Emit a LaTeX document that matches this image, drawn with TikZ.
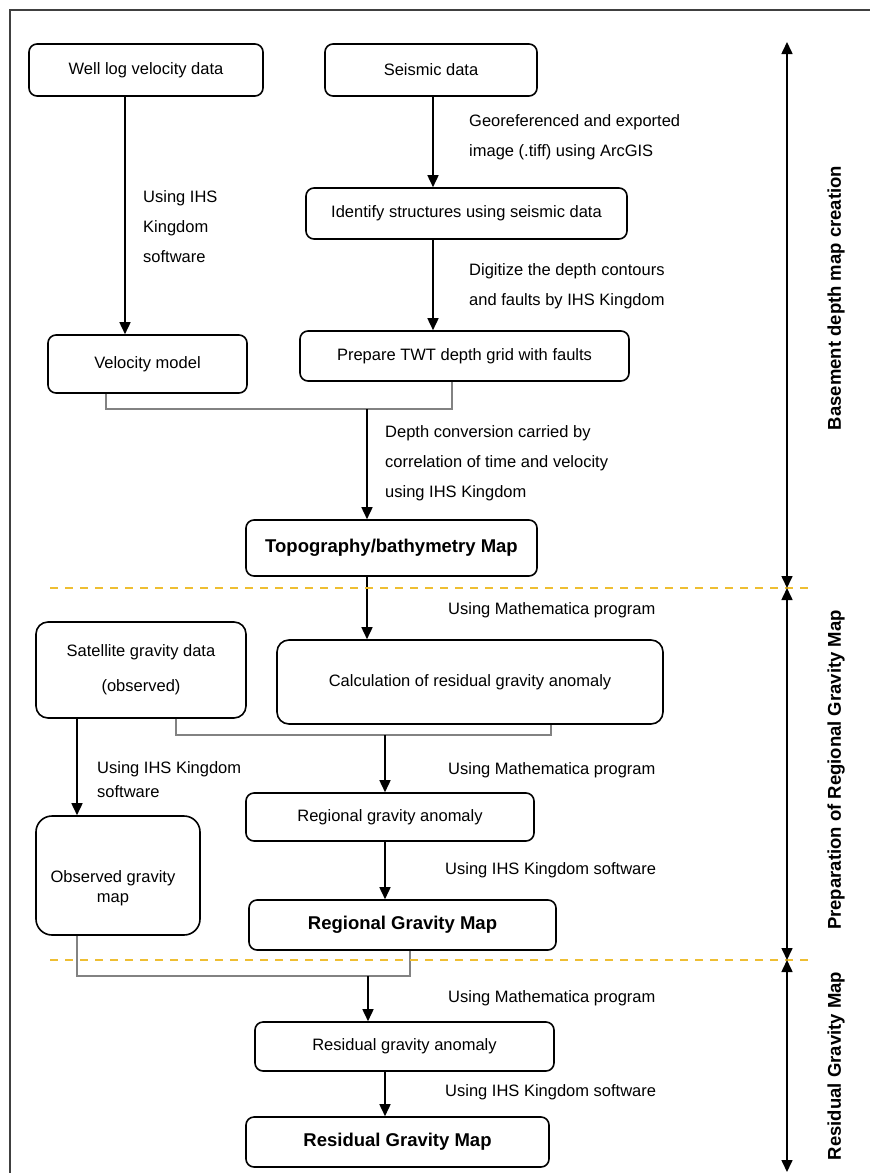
\documentclass[tikz,border=0pt]{standalone}
\usepackage{fontspec}
\setmainfont{Liberation Sans}
\usetikzlibrary{arrows.meta,calc}
\definecolor{dashy}{RGB}{238,190,50}
\definecolor{connc}{RGB}{130,130,130}
\begin{document}
\begin{tikzpicture}[x=1pt,y=-1pt,
  box/.style={draw, line width=1.6pt, rounded corners=8pt, inner sep=0pt, align=center, font=\fontsize{16.5}{20}\selectfont},
  bbox/.style={box, font=\fontsize{18.5}{22}\selectfont\bfseries},
  ann/.style={anchor=west, inner sep=0pt, align=left, font=\fontsize{16.5}{30}\selectfont},
  arr/.style={line width=1.6pt, -{Triangle[length=12pt,width=11pt]}},
  conn/.style={draw=connc, line width=1.1pt},
  sep/.style={draw=dashy, line width=2pt, dash pattern=on 8pt off 7pt},
  side/.style={line width=1.6pt, {Triangle[length=12pt,width=11pt]}-{Triangle[length=12pt,width=11pt]}},
  sidelab/.style={rotate=90, inner sep=0pt, font=\fontsize{18.5}{22}\selectfont\bfseries}]
\useasboundingbox (0,0) rectangle (870,1173);
% frame
\draw[line width=1.6pt, draw=black!75] (10,1180) -- (10,10) -- (880,10);

% boxes
\node[box, minimum width=234pt, minimum height=52pt] (well) at (146,70) {Well log velocity data};
\node[box, minimum width=212pt, minimum height=52pt] (seis) at (431,70) {Seismic data};
\node[box, minimum width=321pt, minimum height=51pt] (ident) at (466.5,213.5) {Identify structures using seismic data};
\node[box, minimum width=329pt, minimum height=50pt] (prep) at (464.5,356) {Prepare TWT depth grid with faults};
\node[box, minimum width=199pt, minimum height=58pt] (vel) at (147.5,364) {Velocity model};
\node[bbox, minimum width=291pt, minimum height=56pt] (topo) at (391.5,548) {Topography/bathymetry Map};
\node[box, rounded corners=12pt, minimum width=210pt, minimum height=96pt] (sat) at (141,670) {Satellite gravity data\\[15pt](observed)};
\node[box, rounded corners=12pt, minimum width=386pt, minimum height=84pt] (calc) at (470,682) {Calculation of residual gravity anomaly};
\node[box, minimum width=288pt, minimum height=48pt] (regan) at (390,817) {Regional gravity anomaly};
\node[box, rounded corners=16pt, minimum width=164pt, minimum height=119pt] (obs) at (118,875.5) {};
\node[inner sep=0pt, align=center, font=\fontsize{16.5}{20}\selectfont] (obst) at (113,888) {Observed gravity\\map};
\node[bbox, minimum width=307pt, minimum height=50pt] (regmap) at (402.5,925) {Regional Gravity Map};
\node[box, minimum width=299pt, minimum height=49pt] (resan) at (404.5,1046.5) {Residual gravity anomaly};
\node[bbox, minimum width=303pt, minimum height=50pt] (resmap) at (397.5,1142) {Residual Gravity Map};

% annotations
\node[ann] (a1) at (143,227) {Using IHS\\Kingdom\\software};
\node[ann] (a2) at (469,137.5) {Georeferenced and exported\\image (.tiff) using ArcGIS};
\node[ann] (a3) at (469,286) {Digitize the depth contours\\and faults by IHS Kingdom};
\node[ann] (a4) at (385,463) {Depth conversion carried by\\correlation of time and velocity\\using IHS Kingdom};
\node[ann] (a5) at (448,610) {Using Mathematica program};
\node[ann, font=\fontsize{16.5}{24}\selectfont] (a6) at (97,780) {Using IHS Kingdom\\software};
\node[ann] (a7) at (448,770) {Using Mathematica program};
\node[ann] (a8) at (445,870) {Using IHS Kingdom software};
\node[ann] (a9) at (448,998) {Using Mathematica program};
\node[ann] (a10) at (445,1092) {Using IHS Kingdom software};

% column coordinates
\coordinate (x77) at (77,0);
\coordinate (x106) at (106,0);
\coordinate (x125) at (125,0);
\coordinate (x176) at (176,0);
\coordinate (x367) at (367,0);
\coordinate (x368) at (368,0);
\coordinate (x385) at (385,0);
\coordinate (x410) at (410,0);
\coordinate (x433) at (433,0);
\coordinate (x452) at (452,0);
\coordinate (x551) at (551,0);
\coordinate (j1) at (367,409);
\coordinate (j2) at (385,735);
\coordinate (j3) at (368,976);

% arrows
\draw[arr] (x125 |- well.south) -- (x125 |- vel.north);
\draw[arr] (x433 |- seis.south) -- (x433 |- ident.north);
\draw[arr] (x433 |- ident.south) -- (x433 |- prep.north);
\draw[arr] (x367 |- topo.south) -- (x367 |- calc.north);
\draw[arr] (x77 |- sat.south) -- (x77 |- obs.north);
\draw[arr] (x385 |- regan.south) -- (x385 |- regmap.north);
\draw[arr] (x385 |- resan.south) -- (x385 |- resmap.north);

% joining connectors
\draw[conn] (x106 |- vel.south) -- (x106 |- j1) -- (x452 |- j1) -- (x452 |- prep.south);
\draw[arr] (j1) -- (x367 |- topo.north);
\draw[conn] (x176 |- sat.south) -- (x176 |- j2) -- (x551 |- j2) -- (x551 |- calc.south);
\draw[arr] (j2) -- (x385 |- regan.north);
\draw[conn] (x77 |- obs.south) -- (x77 |- j3) -- (x410 |- j3) -- (x410 |- regmap.south);
\draw[arr] (j3) -- (x368 |- resan.north);

% separators
\draw[sep] (50,588) -- (813,588);
\draw[sep] (50,960) -- (813,960);

% side arrows
\coordinate (s0) at (787,42);
\coordinate (s1) at (787,588);
\coordinate (s2) at (787,960);
\coordinate (s3) at (787,1172);
\draw[side] (s0) -- (s1);
\draw[side] (s1) -- (s2);
\draw[side] (s2) -- (s3);
\node[sidelab] (l1) at (836,298) {Basement depth map creation};
\node[sidelab] (l2) at (836,770) {Preparation of Regional Gravity Map};
\node[sidelab] (l3) at (836,1066) {Residual Gravity Map};
\end{tikzpicture}
\end{document}
